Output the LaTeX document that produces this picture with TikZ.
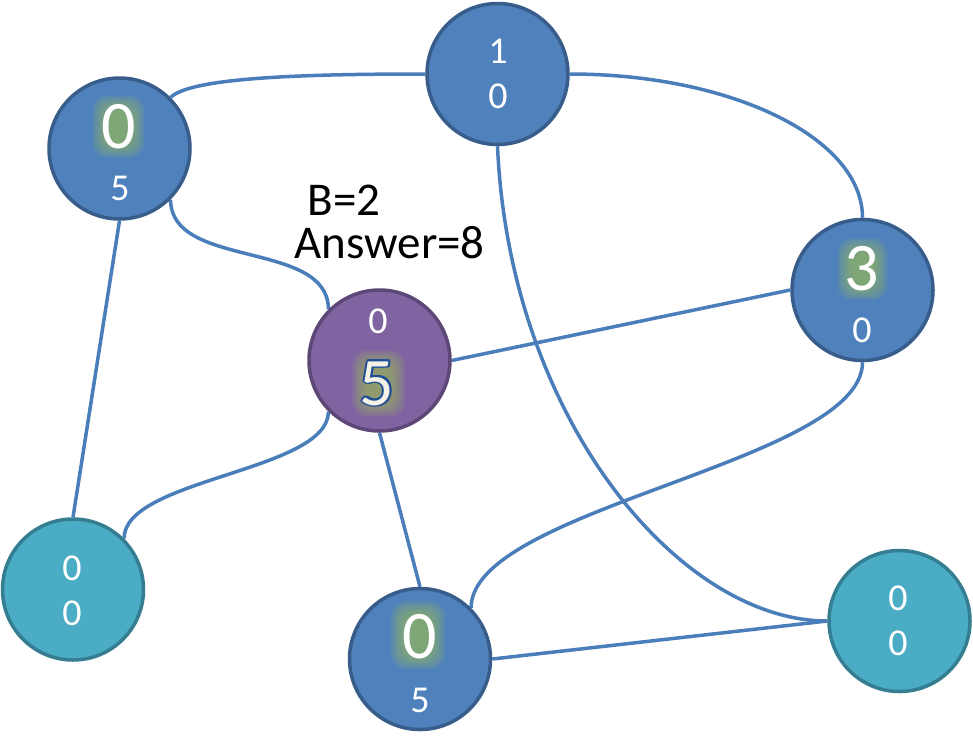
\documentclass[tikz,border=0pt]{standalone}
\usepackage{fontspec}
\setmainfont{Carlito}
\usetikzlibrary{backgrounds}
\definecolor{nblue}{HTML}{4F81BD}
\definecolor{nblueD}{HTML}{385D8A}
\definecolor{npurp}{HTML}{8064A2}
\definecolor{npurpD}{HTML}{5C4776}
\definecolor{ncyan}{HTML}{4BACC6}
\definecolor{ncyanD}{HTML}{357D91}
\definecolor{edgec}{HTML}{4A7EBB}
\definecolor{glowc}{HTML}{9BBB59}
\definecolor{outl}{HTML}{1F4E96}
\definecolor{cream}{HTML}{F4F2E6}
\tikzset{
  vert/.style={circle, minimum size=141pt, inner sep=0pt, line width=3.5pt},
  bluev/.style={vert, fill=nblue, draw=nblueD},
  purpv/.style={vert, fill=npurp, draw=npurpD},
  cyanv/.style={vert, fill=ncyan, draw=ncyanD},
  bigdig/.style={text=white, font=\fontsize{68}{68}\selectfont, inner sep=0pt, anchor=base},
  smalldig/.style={text=white, font=\fontsize{38}{38}\selectfont, inner sep=0pt, anchor=base},
  lbl/.style={text=black, font=\fontsize{47}{47}\selectfont, inner sep=0pt, anchor=base},
  edgeline/.style={draw=edgec, line width=3.5pt},
}
\newcommand\glowat[3]{%
  \begin{scope}[shift={#1}]
    \foreach \k in {0,2,...,14}{
      \fill[glowc, opacity=0.13, rounded corners=14pt] (-#2+\k,-#3+\k) rectangle (#2-\k,#3-\k);
    }
  \end{scope}}
\begin{document}
\begin{tikzpicture}[x=1pt,y=-1pt]
\useasboundingbox (0,0) rectangle (973,745);
% vertices
\node[bluev] (A) at (119.5,148.5) {};
\node[bluev] (T) at (497.5,74) {};
\node[bluev] (R) at (862.5,290) {};
\node[purpv] (P) at (379.5,360.5) {};
\node[cyanv] (BL) at (73,589.5) {};
\node[bluev] (BM) at (420,659) {};
\node[cyanv] (BR) at (899.5,621) {};
% glows
\glowat{(118.5,126.5)}{26}{31}
\glowat{(862.5,269)}{25}{31}
\glowat{(378.5,383.5)}{26}{33}
\glowat{(418,635)}{27}{34}
% texts
\node[bigdig] (a1) at (119,148) {0};
\node[smalldig] (a2) at (120,200) {5};
\node[smalldig] (t1) at (498,63) {1};
\node[smalldig] (t2) at (498,108) {0};
\node[bigdig] (r1) at (862,290) {3};
\node[smalldig] (r2) at (862,342) {0};
\node[smalldig] (p1) at (378,333) {0};
\foreach \a in {0,45,...,315}{
  \node[bigdig, text=outl, shift={(\a:1.8)}] (p2o\a) at (377,405) {5};
}
\node[bigdig, text=cream] (p2) at (377,405) {5};
\node[smalldig] (l1) at (72,580) {0};
\node[smalldig] (l2) at (72,625) {0};
\node[bigdig] (m1) at (420,658) {0};
\node[smalldig] (m2) at (420,712) {5};
\node[smalldig] (s1) at (898,610) {0};
\node[smalldig] (s2) at (898,655) {0};
\node[lbl] (bl) at (344,215) {B=2};
\node[lbl] (ans) at (389.5,258) {Answer=8};
% edges
\begin{scope}[on background layer]
  \fill[white] (0,0) rectangle (973,745);
  \draw[edgeline] (A.north east) .. controls +(20,-20) and +(-120,0) .. (T.west);
  \draw[edgeline] (T.east) .. controls +(161,0) and +(0,-80) .. (R.north);
  \draw[edgeline] (T.south) .. controls +(12,272) and +(-148,0) .. (BR.west);
  \draw[edgeline] (A.south east) .. controls +(0,70) and +(0,-70) .. (P.north west);
  \draw[edgeline] (A.south) -- (BL.north);
  \draw[edgeline] (P.east) -- (R.west);
  \draw[edgeline] (P.south west) .. controls +(0,60) and +(0,-60) .. (BL.north east);
  \draw[edgeline] (P.south) -- (BM.north);
  \draw[edgeline] (R.south) .. controls +(0,100) and +(0,-100) .. (BM.north east);
  \draw[edgeline] (BM.east) -- (BR.west);
\end{scope}
\end{tikzpicture}
\end{document}
